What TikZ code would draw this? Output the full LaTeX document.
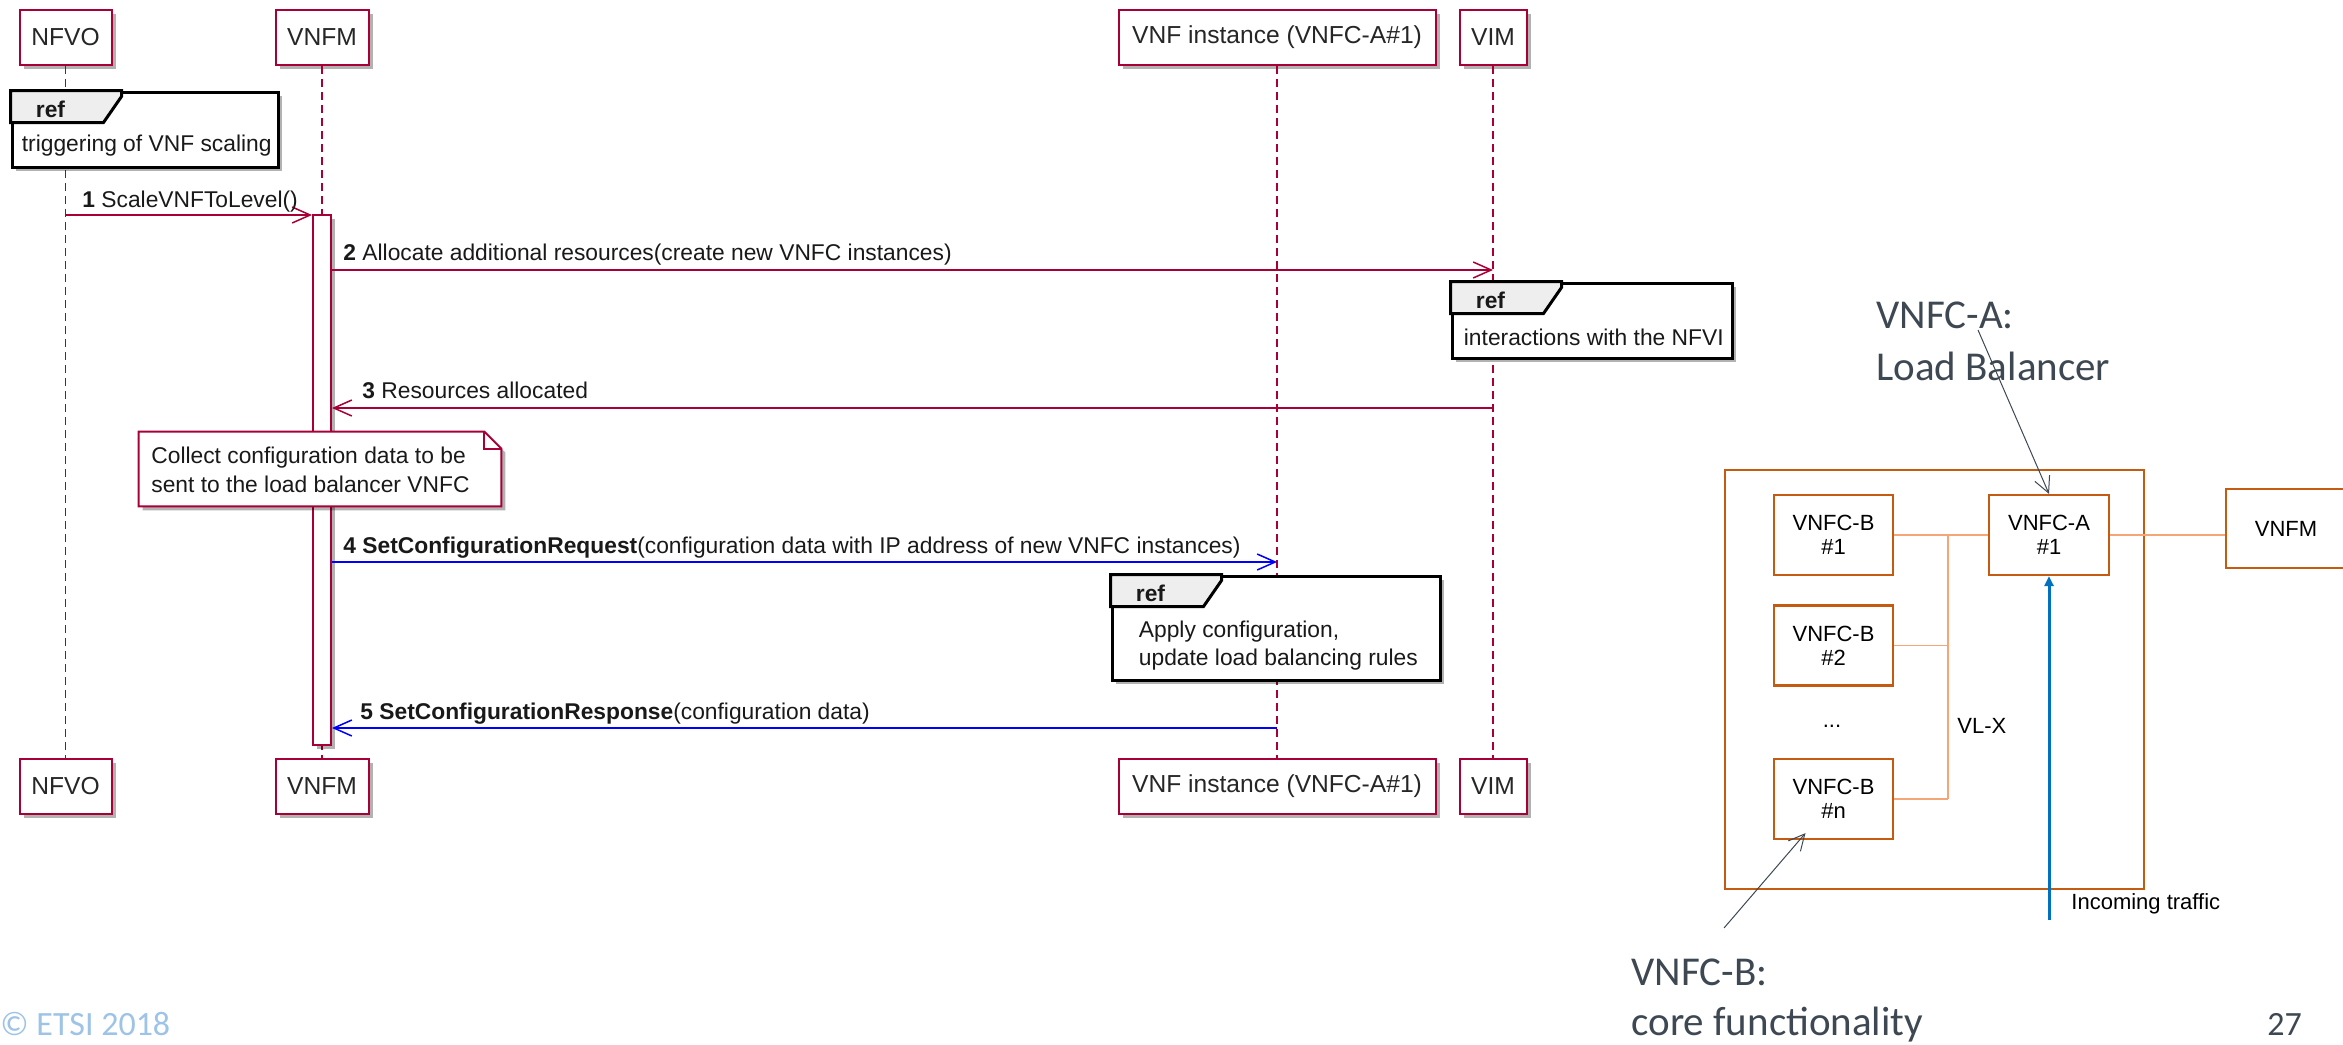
\documentclass[tikz,border=0pt]{standalone}
\usepackage{fontspec}
\setmainfont{Liberation Sans}
\newfontfamily\calibri{Carlito}
\usetikzlibrary{arrows.meta,shadows,calc}
\definecolor{pu}{HTML}{A80036}
\definecolor{org}{HTML}{C55A11}
\definecolor{lorg}{HTML}{F6A676}
\definecolor{tblue}{HTML}{0070C0}
\definecolor{callgray}{HTML}{3E4852}
\definecolor{etsiblue}{HTML}{9DC3E6}
\definecolor{tabgray}{HTML}{EEEEEE}
\newcommand\myreftab[1]{%
  \draw[reftabst] (#1.north west) -- ++(111,0) -- ++(0,6) -- ++(-18,26) -- ($(#1.north west)+(0,32)$) -- cycle;
  \node[lbl,font=\fontsize{11.4}{14}\selectfont\bfseries] at ($(#1.north west)+(25,27)$) {ref};}
\begin{document}
\begin{tikzpicture}[x=0.5pt,y=-0.5pt,
  shad/.style={drop shadow={shadow xshift=2pt,shadow yshift=-2pt,fill=black,opacity=.3}},
  part/.style={draw=pu,line width=1pt,fill=white,inner sep=0,minimum height=27.5pt,
    font=\fontsize{12.3}{14}\selectfont,text=black!85,shad},
  life/.style={draw=pu,line width=0.7pt,dash pattern=on 4pt off 2.5pt},
  actbar/.style={draw=pu,line width=1pt,fill=white,inner sep=0,minimum width=9pt,minimum height=265pt,shad},
  msg/.style={draw=pu,line width=0.75pt,-{Straight Barb[length=9pt,width=8pt]}},
  bmsg/.style={draw=blue,line width=0.75pt,-{Straight Barb[length=9pt,width=8pt]}},
  lbl/.style={anchor=base west,inner sep=0,font=\fontsize{11.4}{14}\selectfont,text=black!90},
  refbox/.style={draw=black,line width=1.5pt,fill=white,inner sep=0,shad},
  reftabst/.style={draw=black,line width=1.5pt,fill=tabgray,line join=miter},
  notest/.style={draw=pu,line width=1pt,fill=white,shad},
  obox/.style={draw=org,line width=1.2pt,inner sep=0},
  ibox/.style={draw=org,line width=1.1pt,fill=white,inner sep=0,minimum width=59.5pt,minimum height=40pt,
    align=center,font=\fontsize{11}{12}\selectfont},
  bus/.style={draw=lorg,line width=0.8pt},
  inarrow/.style={draw=tblue,line width=1.5pt,-{Triangle[length=5pt,width=4.5pt]}},
  callout/.style={draw=callgray,line width=0.5pt,-{Straight Barb[length=8pt,width=8pt]}},
  ctext/.style={anchor=base west,inner sep=0,text=callgray,font=\calibri\fontsize{20.5}{24}\selectfont},
]
\useasboundingbox (0,0) rectangle (2343,1044);

% participants
\node[part,minimum width=46pt] (nfvo) at (65.5,37.5) {NFVO};
\node[part,minimum width=46.5pt] (vnfm) at (322,37.5) {VNFM};
\node[part,minimum width=158.5pt] (vnf) at (1277,37.5) {VNF instance (VNFC-A\#1)};
\node[part,minimum width=33.5pt] (vim) at (1493,37.5) {VIM};
\node[part,minimum width=46pt] (nfvo2) at (65.5,786.5) {NFVO};
\node[part,minimum width=46.5pt] (vnfm2) at (322,786.5) {VNFM};
\node[part,minimum width=158.5pt] (vnf2) at (1277,786.5) {VNF instance (VNFC-A\#1)};
\node[part,minimum width=33.5pt] (vim2) at (1493,786.5) {VIM};

% lifelines
\foreach \n in {nfvo,vnfm,vnf,vim} \draw[life] (\n.south) -- (\n2.north);

% activation bar
\node[actbar] (act) at (322,480) {};

% messages
\draw[msg] (nfvo |- 0,215) -- (act.west |- 0,215);
\node[lbl] (l1) at (82,207) {\textbf{1} ScaleVNFToLevel()};
\draw[msg] (act.east |- 0,270) -- (vim |- 0,270);
\node[lbl] (l2) at (343,260) {\textbf{2} Allocate additional resources(create new VNFC instances)};
\draw[msg] (vim |- 0,408) -- (act.east |- 0,408);
\node[lbl] (l3) at (362,398) {\textbf{3} Resources allocated};
\draw[bmsg] (act.east |- 0,562) -- (vnf |- 0,562);
\node[lbl] (l4) at (343,553) {\textbf{4 SetConfigurationRequest}(configuration data with IP address of new VNFC instances)};
\draw[bmsg] (vnf |- 0,728) -- (act.east |- 0,728);
\node[lbl] (l5) at (360,719) {\textbf{5 SetConfigurationResponse}(configuration data)};

% ref boxes
\node[refbox,minimum width=133pt,minimum height=37.5pt] (ref1) at (145,129.5) {};
\myreftab{ref1}
\node[lbl] (r1t) at ($(ref1.north west)+(11,61)$) {triggering of VNF scaling};

\node[refbox,minimum width=140pt,minimum height=37.5pt] (ref2) at (1592,320.5) {};
\myreftab{ref2}
\node[lbl] (r2t) at ($(ref2.north west)+(13,64)$) {interactions with the NFVI};

\node[refbox,minimum width=164pt,minimum height=52pt] (ref3) at (1276,628) {};
\myreftab{ref3}
\node[lbl] (r3a) at ($(ref3.north west)+(28,63)$) {Apply configuration,};
\node[lbl] (r3b) at ($(ref3.north west)+(28,91)$) {update load balancing rules};

% note
\node[inner sep=0,minimum width=181pt,minimum height=37pt] (note) at (320,469) {};
\draw[notest] (note.north west) -- ($(note.north east)+(-17,0)$) -- ($(note.north east)+(0,17)$)
  -- (note.south east) -- (note.south west) -- cycle;
\draw[draw=pu,line width=1pt] ($(note.north east)+(-17,0)$) |- ($(note.north east)+(0,17)$);
\node[lbl] (n1) at (151,463) {Collect configuration data to be};
\node[lbl] (n2) at (151,492) {sent to the load balancer VNFC};

% right diagram
\node[obox,minimum width=209.5pt,minimum height=209.5pt] (vnfbox) at (1934.5,679.5) {};
\coordinate (bus1) at (1948,535);
\coordinate (busn) at (1948,799);
\node[ibox] (b1) at (1833.5,535) {VNFC-B\\\#1};
\node[ibox] (b2) at (1833.5,645.5) {VNFC-B\\\#2};
\node[ibox] (bn) at (1833.5,799) {VNFC-B\\\#n};
\node[ibox,minimum width=60pt] (a1) at (2049,535) {VNFC-A\\\#1};
\node[ibox,minimum width=60pt,minimum height=39.5pt] (vnfmr) at (2286,528.5) {VNFM};
\draw[bus] (b1.east) -- (a1.west);
\draw[bus] (bus1) -- (busn);
\draw[bus] (b2.east) -- (b2.east -| bus1);
\draw[bus] (bn.east) -- (busn);
\draw[bus] (a1.east) -- (a1.east -| vnfmr.west);
\node[inner sep=0,font=\fontsize{11}{12}\selectfont] (dots) at (1832,726) {...};
\node[anchor=west,inner sep=0,font=\fontsize{11}{12}\selectfont] (vlx) at (1957,726) {VL-X};
\coordinate (inc) at (2049,920);
\draw[inarrow] (inc) -- (a1.south);
\node[anchor=west,inner sep=0,font=\fontsize{11}{12}\selectfont] (inct) at (2071,904) {Incoming traffic};

% callouts
\node[ctext] (ca) at (1876,328) {VNFC-A:};
\node[ctext] (cal) at (1876,380) {Load Balancer};
\coordinate (cas) at (1978,330);
\draw[callout] (cas) -- (a1.north);
\node[ctext] (cb) at (1631,985) {VNFC-B:};
\node[ctext] (cbl) at (1631,1035) {core functionality};
\coordinate (cbs) at (1724,928);
\draw[callout] (cbs) -- ($(bn.south)+(-28,-7)$);

% footer
\node[anchor=base west,inner sep=0,text=etsiblue,font=\calibri\fontsize{17}{20}\selectfont] (etsi) at (0,1035) {© ETSI 2018};
\node[anchor=base west,inner sep=0,text=callgray,font=\calibri\fontsize{17}{20}\selectfont] (pnum) at (2267,1035) {27};
\end{tikzpicture}
\end{document}
